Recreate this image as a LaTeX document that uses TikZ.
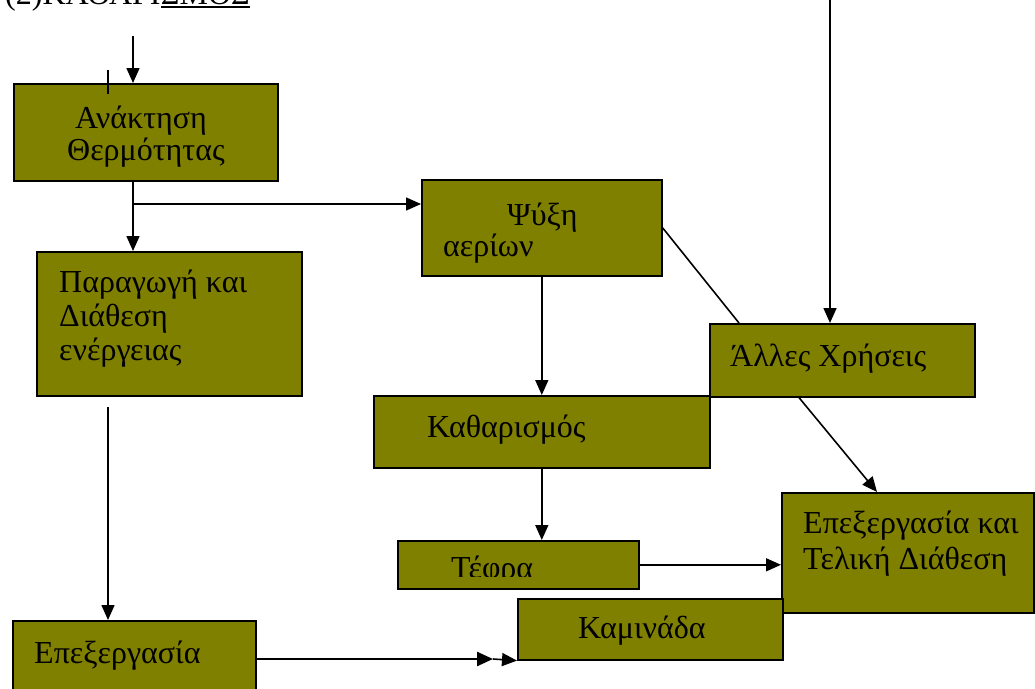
\documentclass[tikz,border=0pt]{standalone}
\usepackage{fontspec}
\setmainfont{Liberation Serif}
\usetikzlibrary{arrows.meta,calc}
\definecolor{olivebox}{HTML}{808000}
\tikzset{
  box/.style={draw=black, line width=1.6pt, fill=olivebox, inner sep=0pt, anchor=north west},
  lbl/.style={inner sep=0pt, anchor=base west, font=\fontsize{32}{38}\selectfont},
  conn/.style={line width=1.6pt},
  arr/.style={conn, -{Triangle[length=15pt,width=13pt]}},
}
\newcommand{\boxat}[5]{\node[box, minimum width=#4pt, minimum height=#5pt] (#1) at (#2,#3) {};}
\begin{document}
\begin{tikzpicture}[x=1pt, y=-1pt]
\useasboundingbox (0,0) rectangle (1035,688);
\clip (0,0) rectangle (1035,688);

% heading, only its lower part falls inside the page
\node[lbl] (head) at (5,5) {(2)ΚΑΘΑΡΙ};
\node[lbl] (headu) at (head.base east) {ΣΜΟΣ};
\draw[line width=1.4pt] ($(headu.base west)+(0,2)$) -- ($(headu.base east)+(0,2)$);

% boxes
\boxat{anak}{13}{83}{264}{97}
\boxat{parag}{36}{251}{265}{144}
\boxat{psy}{421}{179}{240}{96}
\boxat{kath}{373}{395}{336}{72}
\boxat{allo}{709}{323}{265}{73}
\boxat{epk}{781}{492}{252}{120}
\boxat{tefra}{397}{540}{241}{48}
\boxat{kamin}{517}{598}{265}{61}
\boxat{epex}{12}{620}{243}{90}

% labels
\node[lbl] (anak1) at (75,128) {Ανάκτηση};
\node[lbl] (anak2) at (67,160) {Θερμότητας};
\node[lbl] (parag1) at (59,292) {Παραγωγή και};
\node[lbl] (parag2) at (59,326) {Διάθεση};
\node[lbl] (parag3) at (59,360) {ενέργειας};
\node[lbl] (psy1) at (507,225) {Ψύξη};
\node[lbl] (psy2) at (443,256) {αερίων};
\node[lbl] (kath1) at (427,437) {Καθαρισμός};
\node[lbl] (allo1) at (730,366) {Άλλες Χρήσεις};
\node[lbl] (epk1) at (803,533) {Επεξεργασία και};
\node[lbl] (epk2) at (803,569) {Τελική Διάθεση};
\begin{scope}
  \clip (tefra.north west) rectangle ($(tefra.east)+(0,12)$);
  \node[lbl] (tefra1) at (451,578) {Τέφρα};
\end{scope}
\node[lbl] (kamin1) at (578,638) {Καμινάδα};
\node[lbl] (epex1) at (34,663) {Επεξεργασία};

% connector end points
\coordinate (inA) at (133,36);
\coordinate (tk1) at (108,70);
\coordinate (tk2) at (108,94);
\coordinate (br) at (133,204);
\coordinate (pe) at (108,407);
\coordinate (inB) at (830,-5);
\coordinate (mid) at (493,659);

% connectors
\draw[arr] (inA) -- (inA |- anak.north);
\draw[conn] (tk1) -- (tk2);
\draw[arr] (inA |- anak.south) -- (inA |- parag.north);
\draw[arr] (br) -- (br -| psy.west);
\draw[arr] (pe) -- (pe |- epex.north);
\draw[arr] (psy.south) -- (psy.south |- kath.north);
\draw[conn] (psy.east) -- ($(allo.north west)+(30,0)$);
\draw[arr] (inB) -- (inB |- allo.north);
\draw[arr] ($(allo.south west)+(90,0)$) -- ($(epk.north west)+(96,0)$);
\draw[arr] (kath.south) -- (kath.south |- tefra.north);
\draw[arr] (tefra.east) -- (tefra.east -| epk.west);
\draw[line width=2.4pt, -{Triangle[length=16pt,width=14pt]}] (epex.east |- mid) -- (mid);
\draw[arr] (mid) -- (kamin.south west);
\end{tikzpicture}
\end{document}
